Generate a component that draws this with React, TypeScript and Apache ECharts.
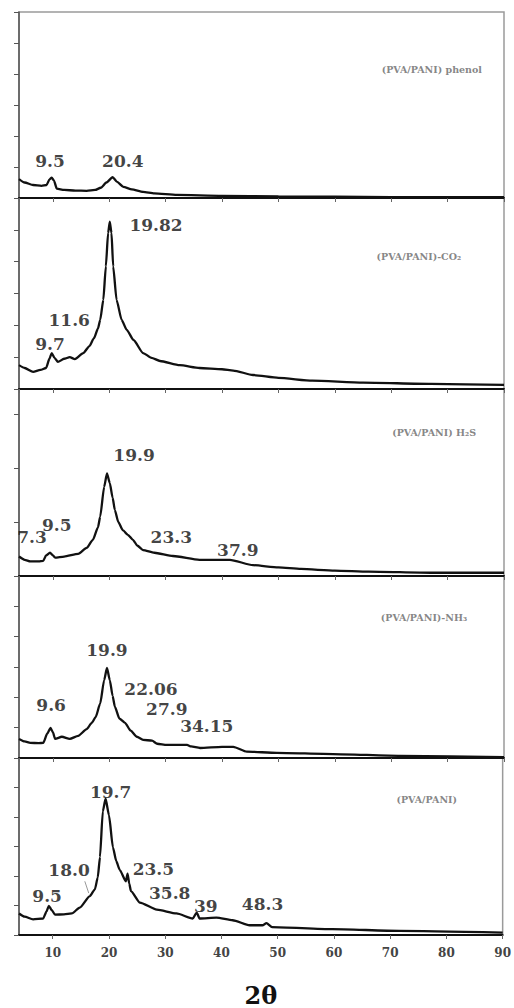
import React, { useEffect, useRef } from "react";
import * as echarts from "echarts";

// 2θ range and ticks
const X_MIN = 4;
const X_MAX = 90;

// Curves: [2θ, intensity (a.u.)]
const phenolCurve: number[][] = [
  [4, 0.61], [5, 0.5], [6.5, 0.42], [8, 0.39], [8.9, 0.42], [9.4, 0.6], [9.8, 0.66], [10.2, 0.56], [10.7, 0.3],
  [12, 0.26], [14, 0.24], [16, 0.23], [17.5, 0.26], [18.5, 0.33], [19.5, 0.5], [20.6, 0.67], [21.4, 0.52],
  [22.5, 0.36], [24, 0.28], [26, 0.2], [28, 0.15], [32, 0.1], [40, 0.07], [50, 0.05], [60, 0.04], [70, 0.03],
  [80, 0.03], [90, 0.03],
];
const co2Curve: number[][] = [
  [4, 0.75], [5, 0.66], [6.5, 0.54], [7.8, 0.6], [8.8, 0.66], [9.4, 0.95], [9.8, 1.13], [10.3, 0.98], [10.9, 0.85],
  [12, 0.95], [13, 1.0], [13.9, 0.94], [15.4, 1.13], [16.5, 1.35], [17.3, 1.6], [18.0, 1.9], [18.4, 2.17],
  [18.95, 2.8], [19.4, 3.85], [19.8, 4.9], [20.1, 5.26], [20.4, 4.9], [20.7, 3.85], [21.3, 2.8], [22.2, 2.17],
  [23.1, 1.86], [24.3, 1.54], [26, 1.13], [27.5, 0.98], [29, 0.88], [32.5, 0.75], [36, 0.66], [40, 0.62],
  [42, 0.58], [45.5, 0.44], [50, 0.35], [56, 0.26], [65, 0.2], [77, 0.16], [90, 0.13],
];
const h2sCurve: number[][] = [
  [4, 0.36], [5, 0.3], [6, 0.27], [7.5, 0.27], [8.3, 0.28], [8.8, 0.38], [9.5, 0.43], [10.0, 0.38], [10.4, 0.34],
  [12, 0.36], [14.5, 0.41], [16, 0.52], [17.1, 0.67], [18, 0.9], [18.4, 1.1], [19.1, 1.65], [19.6, 1.9],
  [20.1, 1.72], [20.6, 1.45], [21, 1.22], [21.6, 1.0], [22.4, 0.85], [23.3, 0.76], [24.2, 0.67], [25, 0.56],
  [26, 0.48], [28, 0.43], [31.3, 0.37], [36, 0.3], [41.4, 0.3], [45.5, 0.2], [50, 0.16], [54, 0.13], [60, 0.1],
  [66, 0.08], [77, 0.06], [90, 0.06],
];
const nh3Curve: number[][] = [
  [4, 0.63], [5, 0.55], [6, 0.5], [7.5, 0.49], [8.3, 0.5], [9.0, 0.8], [9.6, 0.99], [10.0, 0.85], [10.4, 0.63],
  [11.6, 0.7], [13, 0.63], [14.5, 0.73], [16, 0.95], [16.9, 1.16], [17.6, 1.35], [18.4, 1.8], [19.1, 2.57],
  [19.6, 2.97], [20.1, 2.57], [20.6, 2.05], [21, 1.69], [21.8, 1.3], [22.8, 1.16], [23.8, 0.9], [24.9, 0.7],
  [26, 0.6], [27.6, 0.57], [28.5, 0.47], [30.2, 0.43], [33.8, 0.43], [34.5, 0.38], [36.1, 0.33], [40, 0.37],
  [42, 0.37], [44.4, 0.21], [49.7, 0.17], [59.7, 0.13], [71.6, 0.07], [90, 0.03],
];
const pvaPaniCurve: number[][] = [
  [4, 0.73], [5, 0.62], [6.5, 0.53], [8.3, 0.56], [8.9, 0.8], [9.3, 0.99], [9.8, 0.85], [10.4, 0.69], [12, 0.7],
  [13.4, 0.73], [14.8, 0.93], [16.6, 1.32], [17.5, 1.55], [18.0, 1.95], [18.4, 2.64], [18.9, 4.19], [19.4, 4.62],
  [20, 4.06], [20.7, 2.97], [21.3, 2.5], [21.9, 2.21], [23.0, 1.82], [23.3, 2.08], [23.6, 1.75], [23.9, 1.49],
  [25.5, 1.1], [28.5, 0.86], [32, 0.73], [34.9, 0.56], [35.6, 0.76], [36.1, 0.56], [39.1, 0.59], [42, 0.5],
  [45, 0.33], [47.3, 0.33], [48, 0.4], [49, 0.27], [59.7, 0.2], [71.6, 0.14], [90, 0.08],
];

// Peak annotations: [text, 2θ, intensity]
const phenolPeaks: [string, number, number][] = [["9.5", 9.5, 1.19], ["20.4", 22.4, 1.19]];
const co2Peaks: [string, number, number][] = [["19.82", 28.3, 5.16], ["11.6", 12.9, 2.17], ["9.7", 9.5, 1.42]];
const h2sPeaks: [string, number, number][] = [
  ["19.9", 24.4, 2.24], ["9.5", 10.7, 0.94], ["7.3", 6.3, 0.72], ["23.3", 31.0, 0.72], ["37.9", 42.8, 0.48],
];
const nh3Peaks: [string, number, number][] = [
  ["19.9", 19.6, 3.56], ["9.6", 9.7, 1.75], ["22.06", 27.4, 2.26], ["27.9", 30.2, 1.6], ["34.15", 37.3, 1.06],
];
const pvaPaniPeaks: [string, number, number][] = [
  ["19.7", 20.3, 4.85], ["18.0", 12.9, 2.21], ["23.5", 27.9, 2.24], ["9.5", 9.0, 1.32],
  ["35.8", 30.8, 1.42], ["39", 37.2, 0.99], ["48.3", 47.3, 1.06],
];
const pvaPaniLeader: number[][] = [[15.7, 1.82], [16.4, 1.42]];

// Sample names: [text, 2θ, intensity]
const sampleNames: [string, number, number][] = [
  ["(PVA/PANI) phenol", 77.2, 4.13],
  ["(PVA/PANI)-CO₂", 74.9, 4.15],
  ["(PVA/PANI) H₂S", 77.6, 2.65],
  ["(PVA/PANI)-NH₃", 75.8, 4.62],
  ["(PVA/PANI)", 76.5, 4.59],
];

const yMaxes = [6, 6, 3.46, 6, 6];
const curves = [phenolCurve, co2Curve, h2sCurve, nh3Curve, pvaPaniCurve];
const peaks = [phenolPeaks, co2Peaks, h2sPeaks, nh3Peaks, pvaPaniPeaks];

const panelTops = [12, 198, 389, 576, 758];
const panelHeights = [186, 191, 187, 182, 182];

const SERIF = "'DejaVu Serif', 'Liberation Serif', serif";

export default function App() {
  const ref = useRef<HTMLDivElement>(null);
  useEffect(() => {
    if (!ref.current) return;
    const chart = echarts.init(ref.current, null, { renderer: "svg" });
    const grids = panelTops.map((t, i) => ({
      left: 19,
      right: 10,
      top: t,
      height: panelHeights[i],
      show: true,
      borderColor: "#9a9a9a",
      borderWidth: 1.5,
      backgroundColor: "transparent",
    }));
    const xAxes = panelTops.map((_, i) => ({
      type: "value",
      gridIndex: i,
      min: X_MIN,
      max: X_MAX,
      minInterval: 10,
      maxInterval: 10,
      splitNumber: 9,
      splitLine: { show: false },
      axisLine: { show: true, lineStyle: { color: "#111", width: 2 } },
      axisTick: { show: true, length: 4, lineStyle: { color: "#666", width: 1 } },
      axisLabel: {
        show: i === 4,
        showMinLabel: false,
        margin: 12,
        fontFamily: SERIF,
        fontWeight: "bold",
        fontSize: 12,
        color: "#444",
        formatter: (v: number) => (v % 10 === 0 ? String(v) : ""),
      },
      name: i === 4 ? "2θ" : "",
      nameLocation: "middle",
      nameGap: 48,
      nameTextStyle: { fontFamily: SERIF, fontWeight: "bold", fontSize: 24, color: "#111" },
    }));
    const yAxes = panelTops.map((_, i) => ({
      type: "value",
      gridIndex: i,
      min: 0,
      max: yMaxes[i],
      interval: 1,
      splitLine: { show: false },
      axisLine: { show: true, lineStyle: { color: "#555", width: 1.5 } },
      axisTick: { show: true, length: 5, lineStyle: { color: "#555", width: 1 } },
      axisLabel: { show: false },
    }));
    const series: any[] = [];
    curves.forEach((c, i) => {
      series.push({
        type: "line",
        xAxisIndex: i,
        yAxisIndex: i,
        data: c,
        showSymbol: false,
        smooth: 0.2,
        smoothMonotone: "x",
        lineStyle: { color: "#111", width: 2.3 },
        silent: true,
      });
      series.push({
        type: "scatter",
        xAxisIndex: i,
        yAxisIndex: i,
        symbolSize: 1,
        itemStyle: { color: "transparent" },
        data: peaks[i].map(([t, x, y]) => ({ name: t, value: [x, y] })),
        label: {
          show: true,
          position: "inside",
          formatter: "{b}",
          fontFamily: SERIF,
          fontWeight: "bold",
          fontSize: 17,
          color: "#111",
        },
        silent: true,
      });
      const [nm, nx, ny] = sampleNames[i];
      series.push({
        type: "scatter",
        xAxisIndex: i,
        yAxisIndex: i,
        symbolSize: 1,
        itemStyle: { color: "transparent" },
        data: [{ name: nm, value: [nx, ny] }],
        label: {
          show: true,
          position: "inside",
          formatter: "{b}",
          fontFamily: SERIF,
          fontWeight: "bold",
          fontSize: 9.5,
          color: "#666",
        },
        silent: true,
      });
    });
    series.push({
      type: "line",
      xAxisIndex: 4,
      yAxisIndex: 4,
      data: pvaPaniLeader,
      showSymbol: false,
      lineStyle: { color: "#999", width: 1 },
      silent: true,
    });
    chart.setOption({
      animation: false,
      backgroundColor: "#fff",
      grid: grids,
      xAxis: xAxes,
      yAxis: yAxes,
      series,
    });
    return () => chart.dispose();
  }, []);
  return (
    <div
      ref={ref}
      style={{ position: "absolute", left: 0, top: 0, width: 514, height: 1008 }}
    />
  );
}
